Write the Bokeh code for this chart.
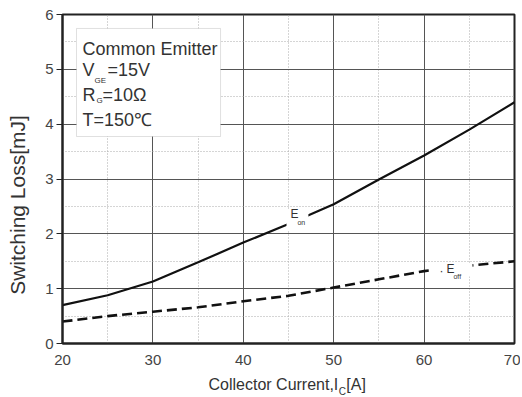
import math
from bokeh.plotting import figure
from bokeh.layouts import column, row
from bokeh.models import Range1d, SingleIntervalTicker, Label, BoxAnnotation
from bokeh.embed import file_html
from bokeh.resources import INLINE

# Data
current = [20, 25, 30, 35, 40, 45, 50, 55, 60, 65, 70]
e_on = [0.70, 0.88, 1.13, 1.48, 1.84, 2.18, 2.54, 2.99, 3.43, 3.90, 4.40]
e_off = [0.40, 0.50, 0.58, 0.66, 0.77, 0.87, 1.02, 1.17, 1.32, 1.42, 1.50]
x_ticks_interval = 10
y_ticks_interval = 1

FONT = "Liberation Sans"
TXT = "#333333"

LEFT_W = 30

p = figure(width=520 - LEFT_W, height=371, output_backend="svg", toolbar_location=None,
           x_range=Range1d(20, 70), y_range=Range1d(0, 6),
           min_border_left=62 - LEFT_W, min_border_right=6, min_border_top=14,
           min_border_bottom=28)
p.background_fill_color = "white"
p.border_fill_color = "white"
p.outline_line_color = "#222222"
p.outline_line_width = 2

p.xaxis.ticker = SingleIntervalTicker(interval=x_ticks_interval, num_minor_ticks=2)
p.yaxis.ticker = SingleIntervalTicker(interval=y_ticks_interval, num_minor_ticks=2)

for g in (p.xgrid, p.ygrid):
    g.grid_line_color = "#555555"
    g.grid_line_width = 1
    g.minor_grid_line_color = "#aaaaaa"
    g.minor_grid_line_dash = "1 2"
    g.minor_grid_line_width = 1

for ax in (p.xaxis, p.yaxis):
    ax.axis_line_color = "#222222"
    ax.axis_line_width = 2
    ax.major_tick_line_color = "#222222"
    ax.minor_tick_line_color = None
    ax.major_label_text_font = FONT
    ax.major_label_text_font_size = "15px"
    ax.major_label_text_color = "#444444"

p.xaxis.major_tick_out = 0
p.xaxis.major_tick_in = 0
p.xaxis.major_label_standoff = 7
p.yaxis.major_tick_out = 6
p.yaxis.major_tick_in = 0
p.yaxis.major_label_standoff = 3

# curves
p.line(current, e_on, line_color="#111111", line_width=2.2)
p.line(current, e_off, line_color="#111111", line_width=2.6, line_dash="10 5")

# gaps for curve labels
p.add_layout(BoxAnnotation(left=44.78, right=47.2, bottom=2.05, top=2.45,
                           fill_color="white", fill_alpha=1, line_color=None))
p.add_layout(BoxAnnotation(left=60.71, right=65.35, bottom=1.22, top=1.47,
                           fill_color="white", fill_alpha=1, line_color=None))

def lab(fig, x, y, t, size, align="left", baseline="middle", color=TXT, angle=0):
    fig.add_layout(Label(x=x, y=y, text=t, text_font=FONT, text_font_size=size,
                         text_color=color, text_align=align, text_baseline=baseline,
                         angle=angle))

# curve labels
lab(p, 45.22, 2.353, "E", "12px")
lab(p, 45.99, 2.207, "on", "7px")
lab(p, 61.92, 1.319, "·", "12px", align="center")
lab(p, 62.48, 1.35, "E", "12px")
lab(p, 63.25, 1.222, "off", "7px")

# info box
p.add_layout(BoxAnnotation(left=21.55, right=37.48, bottom=3.775, top=5.745,
                           fill_color="white", fill_alpha=1,
                           line_color="#999999", line_width=1))
lab(p, 22.21, 5.367, "Common Emitter", "18px")
lab(p, 22.21, 4.983, "V", "18px")
lab(p, 23.55, 4.797, "GE", "8px")
lab(p, 24.98, 4.983, "=15V", "18px")
lab(p, 22.21, 4.532, "R", "18px")
lab(p, 23.76, 4.432, "G", "8px")
lab(p, 24.43, 4.532, "=10Ω", "18px")
lab(p, 22.21, 4.067, "T=150℃", "18px")

def strip(width, height, xr, yr, **kw):
    f = figure(width=width, height=height, output_backend="svg", toolbar_location=None,
               x_range=xr, y_range=yr, x_axis_location=None, y_axis_location=None, **kw)
    f.grid.visible = False
    f.outline_line_color = None
    f.background_fill_color = "white"
    f.border_fill_color = "white"
    return f

# y-axis title strip (shares the y scale)
pl = strip(LEFT_W, 371, Range1d(0, LEFT_W), p.y_range,
           min_border_left=0, min_border_right=0, min_border_top=14, min_border_bottom=28)
lab(pl, 17, 2.526, "Switching Loss[mJ]", "21px", align="center", angle=math.pi / 2)

# x-axis title strip (shares the x scale)
p2 = strip(520 - LEFT_W, 25, p.x_range, Range1d(0, 1),
           min_border_left=62 - LEFT_W, min_border_right=6, min_border_top=0,
           min_border_bottom=0)
lab(p2, 36.15, 0.48, "Collector Current,I", "16px")
lab(p2, 50.55, 0.2, "C", "10px")
lab(p2, 51.4, 0.48, "[A]", "16px")

layout = row(pl, column(p, p2, spacing=0), spacing=0)
open("out.html", "w").write(file_html(layout, INLINE))
